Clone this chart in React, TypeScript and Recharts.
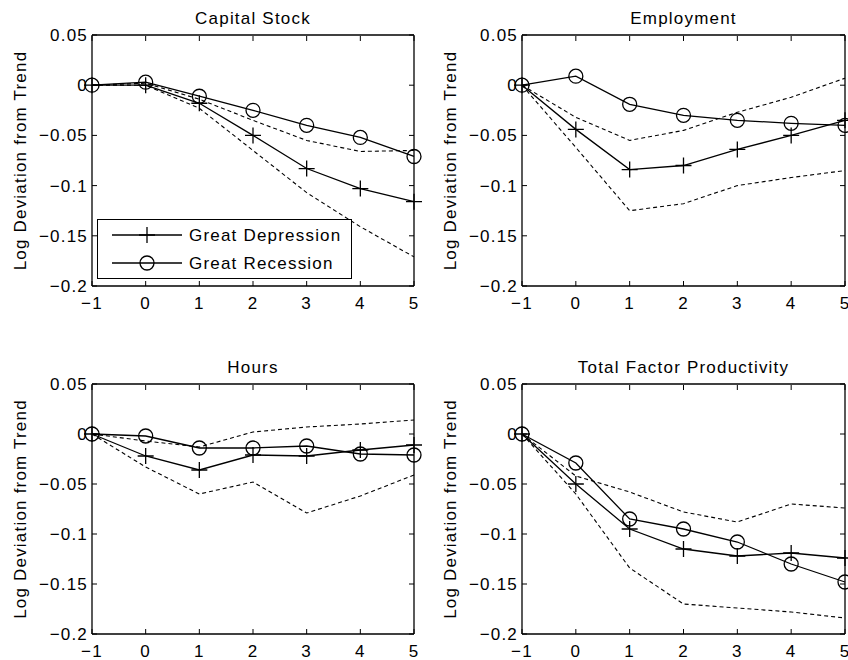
import React from 'react';
import { LineChart, Line, XAxis, YAxis, Legend, Label } from 'recharts';

// horizon (years from peak)
const periods = [-1, 0, 1, 2, 3, 4, 5];
const xTicks = [-1, 0, 1, 2, 3, 4, 5];
const yTicks = [-0.2, -0.15, -0.1, -0.05, 0, 0.05];

// Capital Stock
const capitalDepression = [0, 0, -0.018, -0.05, -0.083, -0.103, -0.116];
const capitalRecession = [0, 0.003, -0.011, -0.025, -0.04, -0.052, -0.071];
const capitalBandHi = [0, 0.002, -0.014, -0.035, -0.055, -0.066, -0.065];
const capitalBandLo = [0, 0, -0.023, -0.065, -0.107, -0.141, -0.171];

// Employment
const employmentDepression = [0, -0.044, -0.084, -0.08, -0.064, -0.05, -0.035];
const employmentRecession = [0, 0.009, -0.019, -0.03, -0.035, -0.038, -0.04];
const employmentBandHi = [0, -0.032, -0.055, -0.045, -0.027, -0.012, 0.007];
const employmentBandLo = [0, -0.062, -0.125, -0.118, -0.1, -0.092, -0.085];

// Hours
const hoursDepression = [0, -0.022, -0.036, -0.021, -0.022, -0.016, -0.011];
const hoursRecession = [0, -0.002, -0.014, -0.014, -0.012, -0.02, -0.021];
const hoursBandHi = [0, -0.007, -0.013, 0.002, 0.007, 0.01, 0.014];
const hoursBandLo = [0, -0.033, -0.06, -0.048, -0.079, -0.062, -0.041];

// Total Factor Productivity
const tfpDepression = [0, -0.05, -0.095, -0.115, -0.122, -0.119, -0.124];
const tfpRecession = [0, -0.029, -0.085, -0.095, -0.108, -0.13, -0.148];
const tfpBandHi = [0, -0.042, -0.058, -0.078, -0.088, -0.07, -0.074];
const tfpBandLo = [0, -0.06, -0.134, -0.17, -0.174, -0.178, -0.184];

const FONT = '"Liberation Sans", Arial, sans-serif';
const FS = 17;
const LS = 1.2;
const TICK = 5;
const BOTTOM_GAP = 11;
const LEFT_GAP = 4;

const minus = (v: number) => (v < 0 ? '\u2212' + String(-v) : String(v));

const makeRows = (gd: number[], gr: number[], hi: number[], lo: number[]) =>
  periods.map((t, i) => ({ t, gd: gd[i], gr: gr[i], hi: hi[i], lo: lo[i] }));

const textStyle = { fontFamily: FONT, fontSize: FS, letterSpacing: LS, fill: '#000' };

const BottomTick = (p: any) => {
  const axisY = p.y - BOTTOM_GAP;
  return (
    <g>
      <line x1={p.x} x2={p.x} y1={axisY} y2={axisY - TICK} stroke="#000" strokeWidth={1} />
      <text x={p.x} y={p.y} dy="0.71em" textAnchor="middle" style={textStyle}>
        {minus(p.payload.value)}
      </text>
    </g>
  );
};

// top axis has height 1, so the axis line sits 1px below the tick origin
const TopTick = (p: any) => (
  <line x1={p.x} x2={p.x} y1={p.y + 1} y2={p.y + 1 + TICK} stroke="#000" strokeWidth={1} />
);

const LeftTick = (p: any) => {
  const axisX = p.x + LEFT_GAP;
  return (
    <g>
      <line x1={axisX} x2={axisX + TICK} y1={p.y} y2={p.y} stroke="#000" strokeWidth={1} />
      <text x={p.x} y={p.y} dy="0.355em" textAnchor="end" style={textStyle}>
        {minus(p.payload.value)}
      </text>
    </g>
  );
};

const RightTick = (p: any) => (
  <line x1={p.x} x2={p.x - TICK} y1={p.y} y2={p.y} stroke="#000" strokeWidth={1} />
);

const plusDot = (p: any) => (
  <path
    key={`plus-${p.index}`}
    d={`M${p.cx - 8},${p.cy}h16M${p.cx},${p.cy - 8}v16`}
    stroke="#000"
    strokeWidth={1.3}
    fill="none"
  />
);

const circleDot = (p: any) => (
  <circle key={`circ-${p.index}`} cx={p.cx} cy={p.cy} r={7} stroke="#000" strokeWidth={1.3} fill="none" />
);

const LegendBox = (props: any) => {
  const items = (props.payload || []).filter((e: any) => e.dataKey === 'gd' || e.dataKey === 'gr');
  return (
    <div style={{ width: 255, height: 60, boxSizing: 'border-box', border: '1.3px solid #000', background: '#fff' }}>
      <svg width={253} height={58} style={{ display: 'block' }}>
        {items.map((e: any, i: number) => {
          const cy = 15 + i * 28;
          return (
            <g key={e.dataKey}>
              <line x1={14} x2={84} y1={cy} y2={cy} stroke="#000" strokeWidth={1.3} />
              {e.dataKey === 'gd'
                ? plusDot({ cx: 49, cy, index: i })
                : circleDot({ cx: 49, cy, index: i })}
              <text x={91} y={cy} dy="0.355em" style={textStyle}>
                {e.value}
              </text>
            </g>
          );
        })}
      </svg>
    </div>
  );
};

type PanelProps = {
  title: string;
  rows: any[];
  left: number;
  top: number;
  yWidth: number;
  marginTop: number;
  marginRight: number;
  xHeight: number;
  marginBottom: number;
  legend?: boolean;
};

function Panel({ title, rows, left, top, yWidth, marginTop, marginRight, xHeight, marginBottom, legend }: PanelProps) {
  return (
    <div style={{ position: 'absolute', left, top }}>
      <LineChart
        width={424}
        height={330}
        data={rows}
        margin={{ top: marginTop - 1, right: marginRight - 1, bottom: marginBottom, left: 0 }}
      >
        <XAxis
          xAxisId="b"
          dataKey="t"
          type="number"
          domain={[-1, 5]}
          ticks={xTicks}
          interval={0}
          height={xHeight}
          tickSize={0}
          tickMargin={BOTTOM_GAP}
          tickLine={false}
          axisLine={{ stroke: '#000', strokeWidth: 1.3 }}
          tick={BottomTick}
        />
        <XAxis
          xAxisId="t"
          orientation="top"
          dataKey="t"
          type="number"
          domain={[-1, 5]}
          ticks={xTicks}
          interval={0}
          height={1}
          tickSize={0}
          tickMargin={0}
          tickLine={false}
          axisLine={{ stroke: '#000', strokeWidth: 1.3 }}
          tick={TopTick}
        >
          <Label
            content={(lp: any) => {
              const vb = lp.viewBox || {};
              return (
                <text x={vb.x + vb.width / 2} y={vb.y + vb.height - 11} textAnchor="middle" style={textStyle}>
                  {title}
                </text>
              );
            }}
          />
        </XAxis>
        <YAxis
          yAxisId="l"
          type="number"
          domain={[-0.2, 0.05]}
          ticks={yTicks}
          interval={0}
          width={yWidth}
          tickSize={0}
          tickMargin={LEFT_GAP}
          tickLine={false}
          axisLine={{ stroke: '#000', strokeWidth: 1.3 }}
          tick={LeftTick}
        >
          <Label
            content={(lp: any) => {
              const vb = lp.viewBox || {};
              const cx = vb.x + vb.width - 72;
              const cy = vb.y + vb.height / 2;
              return (
                <text
                  x={cx}
                  y={cy}
                  dy="0.355em"
                  textAnchor="middle"
                  transform={`rotate(-90 ${cx} ${cy})`}
                  style={textStyle}
                >
                  Log Deviation from Trend
                </text>
              );
            }}
          />
        </YAxis>
        <YAxis
          yAxisId="r"
          orientation="right"
          type="number"
          domain={[-0.2, 0.05]}
          ticks={yTicks}
          interval={0}
          width={1}
          tickSize={0}
          tickMargin={0}
          tickLine={false}
          axisLine={{ stroke: '#000', strokeWidth: 1.3 }}
          tick={RightTick}
        />
        <Line xAxisId="t" yAxisId="r" dataKey="hi" stroke="#000" strokeWidth={1.1} strokeDasharray="4 3" dot={false} legendType="none" activeDot={false} isAnimationActive={false} />
        <Line xAxisId="t" yAxisId="r" dataKey="lo" stroke="#000" strokeWidth={1.1} strokeDasharray="4 3" dot={false} legendType="none" activeDot={false} isAnimationActive={false} />
        <Line xAxisId="b" yAxisId="l" dataKey="gd" name="Great Depression" stroke="#000" strokeWidth={1.3} dot={plusDot} activeDot={false} isAnimationActive={false} />
        <Line xAxisId="b" yAxisId="l" dataKey="gr" name="Great Recession" stroke="#000" strokeWidth={1.3} dot={circleDot} activeDot={false} isAnimationActive={false} />
        {legend && (
          <Legend
            layout="vertical"
            align="center"
            verticalAlign="middle"
            wrapperStyle={{ left: 97, top: 219, width: 255 }}
            content={LegendBox}
          />
        )}
      </LineChart>
    </div>
  );
}

export default function App() {
  return (
    <div style={{ position: 'absolute', left: 0, top: 0, width: 848, height: 660, background: '#fff', overflow: 'hidden' }}>
      <Panel
        title="Capital Stock"
        rows={makeRows(capitalDepression, capitalRecession, capitalBandHi, capitalBandLo)}
        left={0}
        top={0}
        yWidth={92}
        marginTop={35}
        marginRight={10}
        xHeight={30}
        marginBottom={14}
        legend
      />
      <Panel
        title="Employment"
        rows={makeRows(employmentDepression, employmentRecession, employmentBandHi, employmentBandLo)}
        left={424}
        top={0}
        yWidth={98}
        marginTop={35}
        marginRight={3}
        xHeight={30}
        marginBottom={14}
      />
      <Panel
        title="Hours"
        rows={makeRows(hoursDepression, hoursRecession, hoursBandHi, hoursBandLo)}
        left={0}
        top={330}
        yWidth={92}
        marginTop={54}
        marginRight={10}
        xHeight={26}
        marginBottom={0}
      />
      <Panel
        title="Total Factor Productivity"
        rows={makeRows(tfpDepression, tfpRecession, tfpBandHi, tfpBandLo)}
        left={424}
        top={330}
        yWidth={98}
        marginTop={54}
        marginRight={3}
        xHeight={26}
        marginBottom={0}
      />
    </div>
  );
}
